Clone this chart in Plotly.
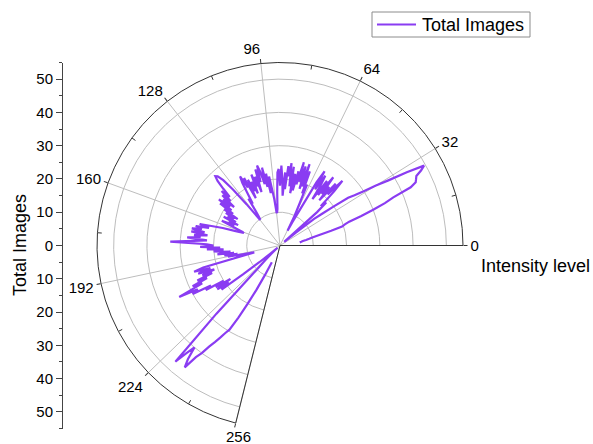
import plotly.graph_objects as go

# Intensity levels (used directly as polar angle in degrees) and image counts
levels = list(range(9, 245))
total_images = [
    # 9-41
    6, 6.5, 7, 8, 9, 10, 12, 16, 19.5, 20.5, 22, 26, 30, 34, 37, 43, 45, 45.5, 46, 48, 49.5,
    44, 38, 34, 30, 27, 25, 20, 16, 13, 6, 2, 2,
    # 42-64
    15, 19, 17, 23, 27, 21, 25, 18, 23, 20, 26, 19, 24, 17, 22, 25, 20, 26, 22, 12, 8, 5, 10,
    # 65-97
    14, 20, 17, 24, 19, 26, 18, 25, 20, 26, 19, 23, 17, 22, 16, 24, 18, 25, 21, 24, 17, 22,
    15, 20, 24, 18, 23, 22, 16, 11, 10, 10, 14,
    # 98-128
    17, 21, 16, 22, 18, 24, 19, 23, 25, 20, 24, 17, 22, 19, 23, 17, 21, 18, 22, 16, 23, 20,
    24, 22, 18, 15, 17, 13, 11, 10, 10,
    # 129-161
    16, 22, 26, 28, 28.5, 27, 24, 21, 24, 20, 23, 18, 22, 19, 23, 18, 22, 17, 20, 15, 19, 16,
    18, 15, 19, 14, 17, 15, 19, 16, 14, 12, 11.5,
    # 162-195
    14, 18, 21, 25, 22, 26, 24, 27, 23, 27, 22, 26, 24, 28, 22, 26, 33, 22, 20, 24, 18, 22,
    17, 20, 18, 15, 19, 14, 17, 13, 16, 12, 9, 8,
    # 196-225
    24, 27, 22, 26, 21, 25, 22, 27, 24, 29, 26, 34, 28, 30, 24, 26, 20, 23, 18, 23, 19, 22,
    14, 8, 4, 2, 1, 2, 4, 6,
    # 226-244
    10, 28, 47, 43, 40, 44, 46.5, 42, 40, 37, 35, 33, 31, 29.5, 25, 20, 15, 10, 5.6,
]

series_name = "Total Images"
angle_ticks = [0, 32, 64, 96, 128, 160, 192, 224, 256]
minor_angle_ticks = [16, 48, 80, 112, 144, 176, 208, 240]
radial_ticks = [10, 20, 30, 40, 50]
radial_max = 55
side_ticks = [-50, -40, -30, -20, -10, 0, 10, 20, 30, 40, 50]
side_labels = [str(abs(v)) for v in side_ticks]

W, H = 593, 444
FONT = "Arial, Liberation Sans, sans-serif"
TICK_SIZE = 15
LINE = "#8a3cf2"
LINE_W = 2.2

fig = go.Figure()

fig.add_trace(go.Scatterpolar(
    r=total_images, theta=levels, mode="lines",
    line=dict(color=LINE, width=LINE_W),
    name=series_name, showlegend=False,
))

# short inward minor ticks on the outer arc
for a in minor_angle_ticks:
    fig.add_trace(go.Scatterpolar(
        r=[radial_max - 1.3, radial_max], theta=[a, a], mode="lines",
        line=dict(color="#333333", width=1),
        showlegend=False, hoverinfo="skip",
    ))

# side scale carrying the radial values
fig.add_trace(go.Scatter(x=[None], y=[None], showlegend=False, hoverinfo="skip"))

cx, cy, R = 280, 245.5, 183

# the last angular label sits just under the end of its spoke
last_label = str(angle_ticks[-1])
angle_text = [str(v) for v in angle_ticks[:-1]] + [""]

# legend box drawn in paper pixels
lx0, ly0, lx1, ly1 = 372, 12, 530, 37

def px(x):
    return x / W

def py(y):
    return 1 - y / H

fig.update_layout(
    width=W, height=H,
    margin=dict(l=0, r=0, t=0, b=0),
    paper_bgcolor="white", plot_bgcolor="white",
    font=dict(family=FONT, size=TICK_SIZE, color="black"),
    showlegend=False,
    polar=dict(
        domain=dict(x=[px(cx - R), px(cx + R)],
                    y=[py(cy + R * 0.9703), py(cy - R)]),
        sector=[0, 256],
        bgcolor="white",
        angularaxis=dict(
            thetaunit="degrees", direction="counterclockwise", rotation=0,
            tickmode="array", tickvals=angle_ticks, ticktext=angle_text,
            ticks="outside", ticklen=4, tickcolor="#333333",
            showline=True, linecolor="#333333", linewidth=1,
            showgrid=True, gridcolor="#bdbdbd", gridwidth=1,
            tickfont=dict(family=FONT, size=TICK_SIZE, color="black"),
        ),
        radialaxis=dict(
            range=[0, radial_max], tickmode="array", tickvals=radial_ticks,
            showticklabels=False, ticks="", showline=False,
            showgrid=True, gridcolor="#bdbdbd", gridwidth=1,
        ),
    ),
    xaxis=dict(visible=False, domain=[0.2, 0.3]),
    yaxis=dict(
        range=[-radial_max, radial_max],
        domain=[py(cy + R), py(cy - R)],
        anchor="free", position=px(62),
        tickmode="array", tickvals=side_ticks, ticktext=side_labels,
        ticks="outside", ticklen=6, tickcolor="#444444",
        minor=dict(dtick=5, ticks="outside", ticklen=3, tickcolor="#444444"),
        showline=True, linecolor="#444444", linewidth=1,
        showgrid=False, zeroline=False,
        tickfont=dict(family=FONT, size=TICK_SIZE, color="black"),
    ),
    shapes=[
        dict(type="rect", xref="paper", yref="paper",
             x0=px(lx0), x1=px(lx1), y0=py(ly1), y1=py(ly0),
             line=dict(color="#8c8c8c", width=1), fillcolor="white"),
        dict(type="line", xref="paper", yref="paper",
             x0=px(lx0 + 5), x1=px(lx0 + 44), y0=py((ly0 + ly1) / 2), y1=py((ly0 + ly1) / 2),
             line=dict(color=LINE, width=LINE_W)),
    ],
    annotations=[
        dict(text=series_name, x=px(lx0 + 48), y=py((ly0 + ly1) / 2), xref="paper", yref="paper",
             showarrow=False, xanchor="left", yanchor="middle",
             font=dict(family=FONT, size=18, color="black")),
        dict(text="Total Images", x=px(20), y=py(245), xref="paper", yref="paper",
             textangle=-90, showarrow=False, xanchor="center", yanchor="middle",
             font=dict(family=FONT, size=18, color="black")),
        dict(text="Intensity level", x=px(479), y=py(266), xref="paper", yref="paper",
             showarrow=False, xanchor="left", yanchor="middle",
             font=dict(family=FONT, size=18, color="black")),
        dict(text=last_label, x=px(238), y=py(436), xref="paper", yref="paper",
             showarrow=False, xanchor="center", yanchor="middle",
             font=dict(family=FONT, size=TICK_SIZE, color="black")),
    ],
)

fig.write_html("out.html")
